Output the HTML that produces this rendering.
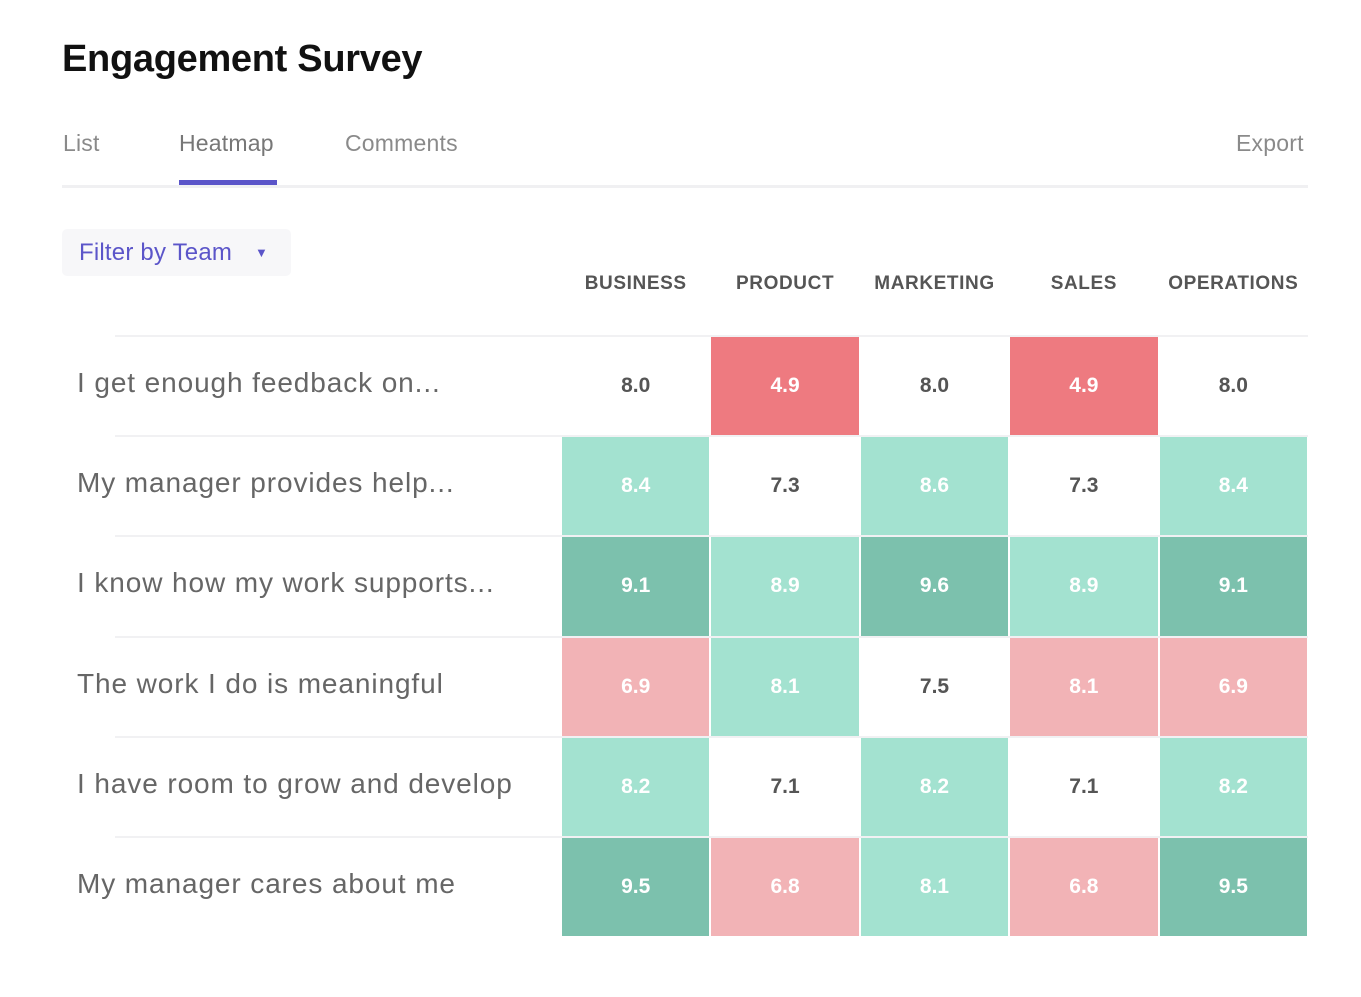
<!DOCTYPE html>
<html><head><meta charset="utf-8"><style>
body{margin:0;width:1361px;height:997px;background:#fff;font-family:"Liberation Sans",sans-serif;position:relative;overflow:hidden}
.abs{position:absolute}
.title{left:62px;top:38px;font-size:38px;font-weight:bold;color:#111;letter-spacing:-0.3px}
.tab{top:130px;font-size:23px;color:#8a8a8a;letter-spacing:0.2px}
.hdr{top:273px;font-size:19px;font-weight:bold;color:#555;letter-spacing:0.6px;text-align:center;width:160px}
.rowlab{left:77px;font-size:28px;color:#666;letter-spacing:0.9px}
.cell{display:flex;align-items:center;justify-content:center;font-size:21px;font-weight:bold}
</style></head><body>
<div class="abs title">Engagement Survey</div>
<div class="abs tab" style="left:63px">List</div>
<div class="abs tab" style="left:179px;color:#777">Heatmap</div>
<div class="abs tab" style="left:345px">Comments</div>
<div class="abs tab" style="left:1236px">Export</div>
<div class="abs" style="left:62px;top:185px;width:1246px;height:3px;background:#f0f0f2"></div>
<div class="abs" style="left:179px;top:180px;width:98px;height:5px;background:#5b55c9"></div>
<div class="abs" style="left:62px;top:229px;width:229px;height:47px;background:#f7f7f9;border-radius:5px">
<span class="abs" style="left:17px;top:10px;font-size:24px;color:#5b55c9;letter-spacing:0.2px">Filter by Team</span>
<span class="abs" style="left:193px;top:16px;font-size:13px;color:#5b55c9">▼</span>
</div>
<div id="grid"></div>
<script>
const teams=["BUSINESS","PRODUCT","MARKETING","SALES","OPERATIONS"];
const questions=["I get enough feedback on...","My manager provides help...","I know how my work supports...","The work I do is meaningful","I have room to grow and develop","My manager cares about me"];
const values=[
[8.0,4.9,8.0,4.9,8.0],
[8.4,7.3,8.6,7.3,8.4],
[9.1,8.9,9.6,8.9,9.1],
[6.9,8.1,7.5,8.1,6.9],
[8.2,7.1,8.2,7.1,8.2],
[9.5,6.8,8.1,6.8,9.5]];
const categories=[
["n","r","n","r","n"],
["g","n","g","n","g"],
["d","g","d","g","d"],
["p","g","n","p","p"],
["g","n","g","n","g"],
["d","p","g","p","d"]];
const colors={n:"#ffffff",r:"#ee7a80",p:"#f2b3b6",g:"#a3e2d0",d:"#7cc1ad"};
const x0=561,cw=149.4,y0=337,rh=100.2;
const xs=i=>x0+i*cw, ys=j=>y0+j*rh;
const g=document.getElementById('grid');
teams.forEach((t,i)=>{const d=document.createElement('div');d.className='abs hdr';d.style.left=(xs(i)+cw/2-80)+'px';d.textContent=t;


g.appendChild(d);});
questions.forEach((q,j)=>{
const l=document.createElement('div');l.className='abs';l.style.cssText=`left:115px;top:${ys(j)-2}px;width:1193px;height:2px;background:#f1f1f3`;


g.appendChild(l);
const t=document.createElement('div');t.className='abs rowlab';t.style.top=(ys(j)+30)+'px';t.textContent=q;


g.appendChild(t);
values[j].forEach((v,i)=>{const c=document.createElement('div');const cat=categories[j][i];
c.className='abs cell';c.style.cssText=`left:${xs(i)+1}px;top:${ys(j)}px;width:${cw-2}px;height:${rh-2}px;background:${colors[cat]};color:${cat==='n'?'#555':'#fff'}`;
c.textContent=v.toFixed(1);


g.appendChild(c);});
});
</script>
</body></html>
